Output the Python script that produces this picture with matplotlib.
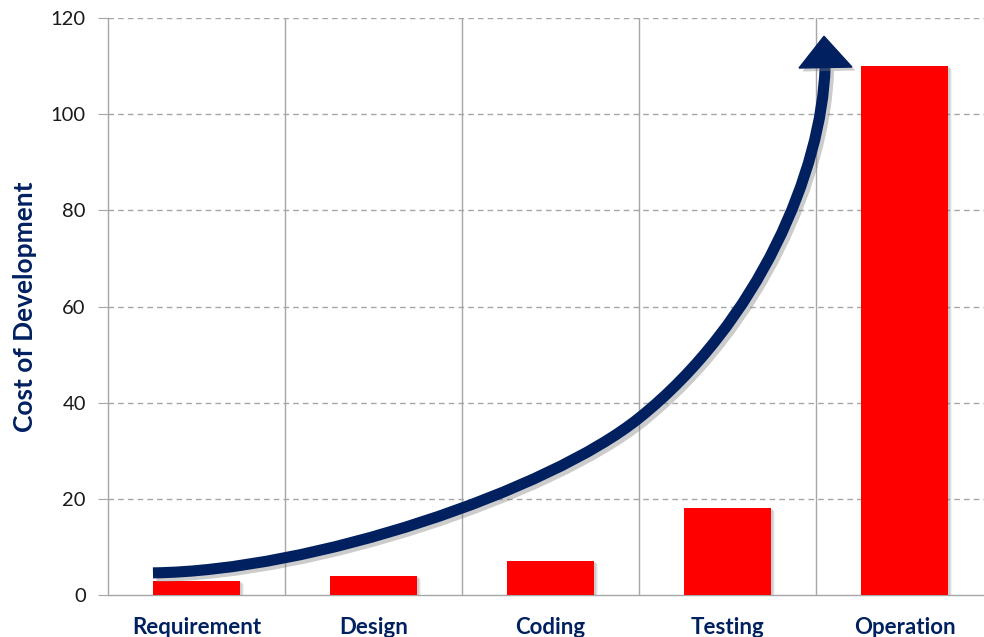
import numpy as np
import matplotlib
matplotlib.use("Agg")
import matplotlib.pyplot as plt
import matplotlib.patheffects as pe
from matplotlib.path import Path
from matplotlib.patches import PathPatch, Polygon
from matplotlib.transforms import offset_copy

# data
stages = ["Requirement", "Design", "Coding", "Testing", "Operation"]
cost = [3, 4, 7, 18, 110]
y_ticks = [0, 20, 40, 60, 80, 100, 120]

# arrow drawn over the bars (data coordinates)
arrow_pts = [(-0.246, 4.6), (0.658, 5.0), (1.992, 21.8), (2.50, 36.8),
             (3.178, 56.8), (3.534, 88.4), (3.551, 109.8)]
arrow_head = [(3.404, 109.6), (3.703, 109.8), (3.545, 116.2)]

navy = "#002060"
grid_col = "#a6a6a6"

plt.rcParams['font.family'] = ['Lato', 'DejaVu Sans']

fig = plt.figure(figsize=(9.84, 6.37), dpi=100)
ax = fig.add_axes([108 / 984, 42 / 637, 1 - 108 / 984, 577 / 637])

x = np.arange(len(stages))

# soft shadow behind bars
for dx, dy, a in [(4, -3, 0.10), (3, -2, 0.15), (2, -1, 0.2)]:
    tr = offset_copy(ax.transData, fig=fig, x=dx, y=dy, units='dots')
    ax.bar(x, cost, width=0.49, color='gray', alpha=a, transform=tr, zorder=2)
ax.bar(x, cost, width=0.49, color='#ff0000', zorder=3)

ax.set_xlim(-0.5, 4.449)
ax.set_ylim(0, 120)

# grid
for yv in y_ticks[1:]:
    ax.axhline(yv, color=grid_col, lw=1.0, ls=(0, (4, 3)), zorder=1)
for b in x[1:] - 0.5:
    ax.axvline(b, color=grid_col, lw=1.0, zorder=1)

for s in ['top', 'right']:
    ax.spines[s].set_visible(False)
for s in ['left', 'bottom']:
    ax.spines[s].set_color(grid_col)
    ax.spines[s].set_linewidth(1.0)

ax.set_yticks(y_ticks)
ax.tick_params(axis='y', length=7, color=grid_col, labelsize=14.5, pad=9,
               labelcolor='#1a1a1a')
ax.set_xticks(x)
ax.set_xticklabels(stages, fontsize=16, fontweight='bold', color=navy)
ax.tick_params(axis='x', length=0, pad=16)

ax.set_ylabel("Cost of Development", fontsize=19, fontweight='bold',
              color=navy, labelpad=10)

# curved arrow
codes = [Path.MOVETO] + [Path.CURVE4] * 6
curve = PathPatch(Path(arrow_pts, codes), fill=False, edgecolor=navy,
                  lw=8, capstyle='butt', zorder=5,
                  path_effects=[pe.SimpleLineShadow(offset=(2.5, -2.5),
                                                    shadow_color='gray',
                                                    alpha=0.4),
                                pe.Normal()])
ax.add_patch(curve)
head = Polygon(arrow_head, closed=True, facecolor=navy, edgecolor=navy,
               zorder=6, clip_on=False,
               path_effects=[pe.SimplePatchShadow(offset=(2.5, -2.5),
                                                  shadow_rgbFace='gray',
                                                  alpha=0.4),
                             pe.Normal()])
ax.add_patch(head)

fig.savefig("out.png", dpi=100)
